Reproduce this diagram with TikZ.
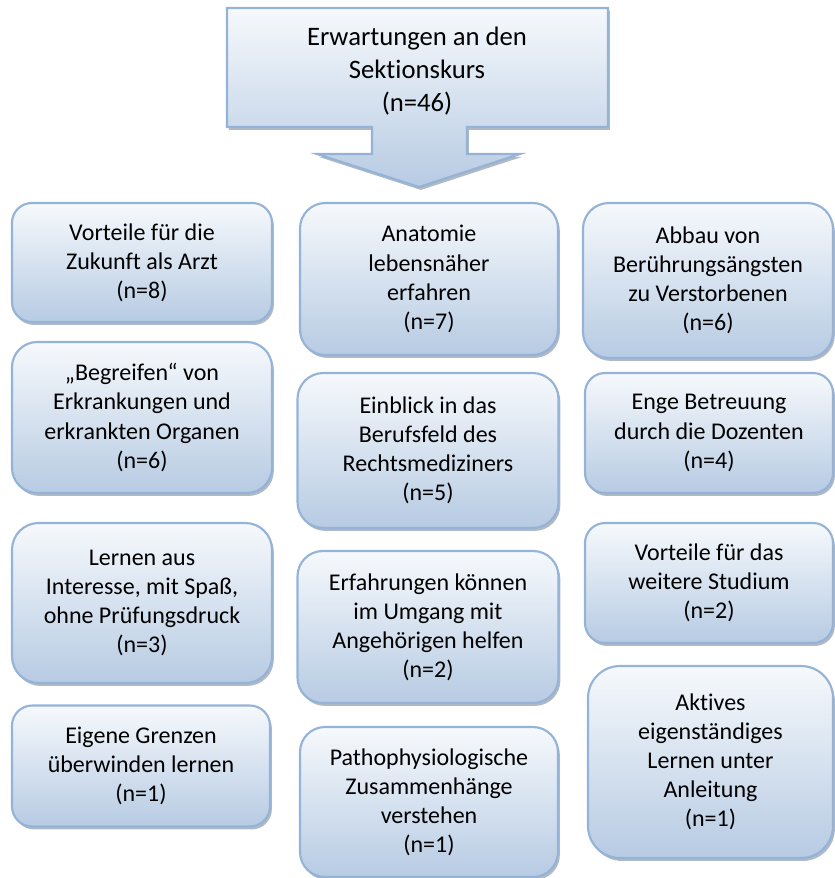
\documentclass[tikz,border=0pt]{standalone}
\usepackage{fontspec}
\setmainfont{Carlito}[RawFeature={-liga;-calt;-clig}]
\usetikzlibrary{shadows}

\definecolor{cardline}{HTML}{95B3D7}
\definecolor{cardtop}{HTML}{F6F9FC}
\definecolor{cardbottom}{HTML}{B7CBE3}
\definecolor{cardshadow}{HTML}{6F7F93}

\tikzset{
  cardshade/.style={
    draw=cardline, line width=1.6pt,
    top color=cardtop, bottom color=cardbottom,
    drop shadow={shadow xshift=1.4pt, shadow yshift=-2.2pt,
                 fill=cardshadow, opacity=0.55}
  },
  card/.style={
    cardshade, rectangle, align=center, inner sep=0pt,
    font=\fontsize{18}{21.8}\selectfont
  },
  headtext/.style={
    align=center, inner sep=0pt,
    font=\fontsize{20}{24.8}\selectfont
  }
}

% \card{name}{centre x}{centre y}{width}{height}{text}, sizes in px
\newcommand\card[6]{%
  \node[card, minimum width={#4*0.75pt}, minimum height={#5*0.75pt},
        rounded corners={#5*0.125pt}] (#1) at (#2,#3) {#6};}

\begin{document}
\begin{tikzpicture}[x=0.75pt, y=-0.75pt]
\useasboundingbox (0,0) rectangle (835,878);

% heading callout with downward arrow
\path[cardshade, line join=miter]
  (227,8) -- (608,8) -- (608,127) -- (467,127) -- (467,154) -- (520,154)
  -- (419,187) -- (317,154) -- (372,154) -- (372,127) -- (227,127) -- cycle;
\node[headtext] (head) at (417,71)
  {Erwartungen an den\\Sektionskurs\\(n=46)};

% left column
\card{l1}{142}{262.5}{260}{119}{Vorteile für die\\Zukunft als Arzt\\(n=8)}
\card{l2}{142}{417.5}{260}{151}{„Begreifen“ von\\Erkrankungen und\\erkrankten Organen\\(n=6)}
\card{l3}{142}{603}{260}{160}{Lernen aus\\Interesse, mit Spaß,\\ohne Prüfungsdruck\\(n=3)}
\card{l4}{141}{766}{258}{121}{Eigene Grenzen\\überwinden lernen\\(n=1)}

% middle column
\card{m1}{429}{279}{258}{152}{Anatomie\\lebensnäher\\erfahren\\(n=7)}
\card{m2}{428}{450.5}{261}{155}{Einblick in das\\Berufsfeld des\\Rechtsmediziners\\(n=5)}
\card{m3}{428}{627}{261}{152}{Erfahrungen können\\im Umgang mit\\Angehörigen helfen\\(n=2)}
\card{m4}{429}{802}{258}{150}{Pathophysiologische\\Zusammenhänge\\verstehen\\(n=1)}

% right column
\card{r1}{708}{280.5}{250}{155}{Abbau von\\Berührungsängsten\\zu Verstorbenen\\(n=6)}
\card{r2}{709}{433}{248}{120}{Enge Betreuung\\durch die Dozenten\\(n=4)}
\card{r3}{709}{583}{248}{120}{Vorteile für das\\weitere Studium\\(n=2)}
\card{r4}{710.5}{762}{245}{192}{Aktives\\eigenständiges\\Lernen unter\\Anleitung\\(n=1)}
\end{tikzpicture}
\end{document}
